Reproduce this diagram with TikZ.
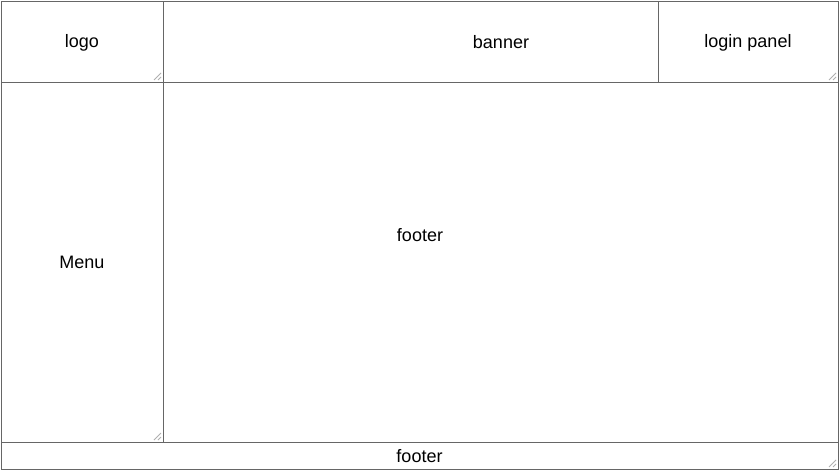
\documentclass[tikz,border=0pt]{standalone}
\usepackage{fontspec}
\setmainfont{Liberation Sans}
\definecolor{edge}{HTML}{666666}
\definecolor{grip}{HTML}{B0B0B0}
\tikzset{
  cell/.style={draw=edge, line width=0.9pt, fill=white, inner sep=0pt, outer sep=0pt, anchor=north west},
  txt/.style={font=\fontsize{18}{20}\selectfont, inner sep=0pt, text height=13pt, text depth=0pt},
  gripline/.style={draw=grip, line width=0.8pt}
}
\newcommand{\resizegrip}[1]{%
  \draw[gripline] ([shift={(-9,-2)}]#1) -- ([shift={(-2,-9)}]#1);
  \draw[gripline] ([shift={(-5,-2)}]#1) -- ([shift={(-2,-5)}]#1);
}
\begin{document}
\begin{tikzpicture}[x=1pt,y=-1pt]
\useasboundingbox (0,0) rectangle (840,470);
\fill[white] (0,0) rectangle (840,470);
\node[cell, minimum width=162pt, minimum height=81pt] (logo) at (1,1) {};
\node[cell, minimum width=675pt, minimum height=81pt] (banner) at (163,1) {};
\node[cell, minimum width=180pt, minimum height=81pt] (login) at (658,1) {};
\node[cell, minimum width=162pt, minimum height=360pt] (menu) at (1,82) {};
\node[cell, minimum width=675pt, minimum height=360pt] (main) at (163,82) {};
\node[cell, minimum width=837pt, minimum height=27pt] (foot) at (1,442) {};
\node[txt] at (logo.center) {logo};
\node[txt] at (501,42) {banner};
\node[txt] at (login.center) {login panel};
\node[txt] at (menu.center) {Menu};
\node[txt] at (420,235) {footer};
\node[txt] at (foot.center) {footer};
\resizegrip{logo.south east}
\resizegrip{login.south east}
\resizegrip{menu.south east}
\resizegrip{foot.south east}
\end{tikzpicture}
\end{document}
